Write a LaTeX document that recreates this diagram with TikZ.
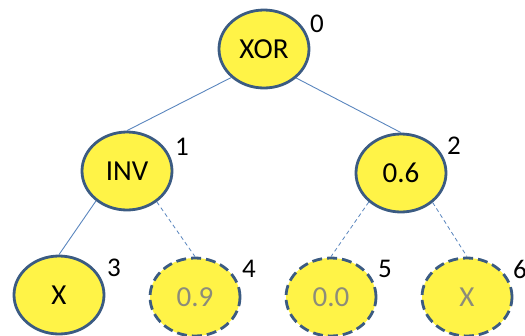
\documentclass[tikz,border=0pt]{standalone}
\usepackage{fontspec}
\setmainfont{Carlito}
\usetikzlibrary{shapes.geometric}
\definecolor{nodefill}{HTML}{FFF347}
\definecolor{nodeborder}{HTML}{3B5B82}
\definecolor{edgecol}{HTML}{5A86BE}
\definecolor{fadedtext}{HTML}{8C8C7A}
\tikzset{
  treenode/.style={ellipse, draw=nodeborder, fill=nodefill, line width=2.8pt,
    minimum width=90pt, minimum height=78pt, inner sep=0pt, font=\fontsize{29}{32}\selectfont},
  ghostnode/.style={treenode, dash pattern=on 10pt off 5pt, text=fadedtext},
  idx/.style={font=\fontsize{27}{30}\selectfont, inner sep=0pt},
  solidedge/.style={draw=edgecol, line width=0.9pt},
  ghostedge/.style={draw=edgecol, line width=0.8pt, dash pattern=on 4pt off 3pt}
}
\begin{document}
\begin{tikzpicture}[x=1pt,y=-1pt]
\useasboundingbox (0,0) rectangle (525,335);
\node[treenode] (n0) at (264,49) {XOR};
\node[treenode] (n1) at (127,171) {INV};
\node[treenode] (n2) at (401,173) {0.6};
\node[treenode] (n3) at (59,295) {X};
\node[ghostnode] (n4) at (195,297) {0.9};
\node[ghostnode] (n5) at (331,297) {0.0};
\node[ghostnode] (n6) at (467,297) {X};
\node[idx] (l0) at (317,24) {0};
\node[idx] (l1) at (182,147) {1};
\node[idx] (l2) at (454,146) {2};
\node[idx] (l3) at (114,268) {3};
\node[idx] (l4) at (249,269) {4};
\node[idx] (l5) at (385,269) {5};
\node[idx] (l6) at (520,269) {6};
\draw[solidedge] (n0.221) -- (n1.north);
\draw[solidedge] (n0.318) -- (n2.north);
\draw[solidedge] (n1.224) -- (n3.north);
\draw[ghostedge] (n1.314) -- (n4.north);
\draw[ghostedge] (n2.222) -- (n5.north);
\draw[ghostedge] (n2.317) -- (n6.north);
\end{tikzpicture}
\end{document}
